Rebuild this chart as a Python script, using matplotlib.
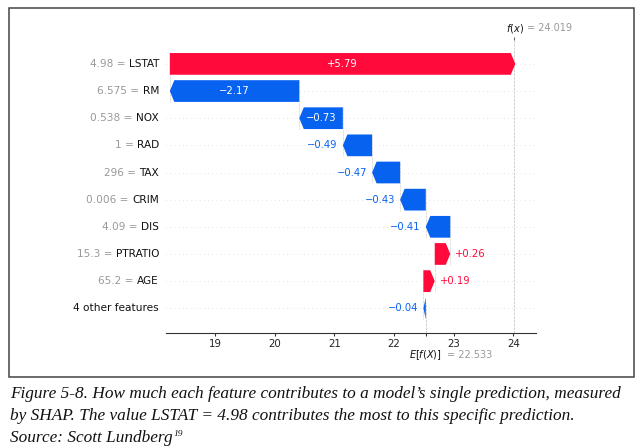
import matplotlib
matplotlib.use('Agg')
import matplotlib.pyplot as plt
from matplotlib.patches import Rectangle
from matplotlib.ticker import FixedLocator
import numpy as np

# data (top row first)
features = ['LSTAT', 'RM', 'NOX', 'RAD', 'TAX', 'CRIM', 'DIS', 'PTRATIO', 'AGE', '4 other features']
feat_values = ['4.98', '6.575', '0.538', '1', '296', '0.006', '4.09', '15.3', '65.2', '']
shap_values = [5.79, -2.17, -0.73, -0.49, -0.47, -0.43, -0.41, 0.26, 0.19, -0.04]
base_value = 22.533
fx_value = 24.019
x_ticks = [19, 20, 21, 22, 23, 24]

caption = ['Figure 5-8. How much each feature contributes to a model\u2019s single prediction, measured',
           'by SHAP. The value LSTAT = 4.98 contributes the most to this specific prediction.',
           'Source: Scott Lundberg']
footnote = '19'

RED = '#ff0a3a'
BLUE = '#0862f0'
GREY = '#999999'

fig = plt.figure(figsize=(6.41, 4.48), dpi=100)
W, H = 641, 448

# book figure frame
fig.patches.append(Rectangle((9.3 / W, 1 - 376.7 / H), (634 - 9.3) / W, (376.7 - 8.3) / H,
                             transform=fig.transFigure, fill=False, ec='#444444', lw=1.1))

ax = fig.add_axes([166 / W, 1 - 332.7 / H, (535.7 - 166) / W, (332.7 - 40) / H])
xmin, xmax = 18.179, 24.375
ax.set_xlim(xmin, xmax)
ax.set_ylim(-0.9, 9.88)

n = len(features)
rows = np.arange(n)[::-1]

px_unit = (535.7 - 166) / (xmax - xmin)
hl = 4.5 / px_unit

# chain of bars, walking up from the base value
starts = np.zeros(n)
loc = base_value
for i in range(n - 1, -1, -1):
    starts[i] = loc
    loc += shap_values[i]

for y in rows:
    ax.axhline(y, color='#cccccc', lw=0.5, dashes=(1, 5), zorder=-1)

ax.axvline(fx_value, 0, 1, color='#bbbbbb', ls='--', lw=0.5, zorder=-1)
ax.axvline(base_value, 0, 1 / n, color='#bbbbbb', ls='--', lw=0.5, zorder=-1)

renderer = fig.canvas.get_renderer()
for i in range(n):
    v = shap_values[i]
    y = rows[i]
    s = starts[i]
    c = RED if v > 0 else BLUE
    sgn = 1 if v > 0 else -1
    ax.arrow(s, y, sgn * max(abs(v) - hl, 1e-6), 0, head_length=min(abs(v), hl),
             width=0.8, head_width=0.8, color=c, lw=0, zorder=2)
    if i < n - 1:
        ax.plot([s, s], [y + 0.4, rows[i + 1] - 0.4], color='#bbbbbb', lw=0.5,
                dashes=(1, 1), zorder=-1)

    lab = ('+' if v > 0 else '\u2212') + '%.2f' % abs(v)
    t = ax.text(s + v / 2, y, lab, ha='center', va='center', color='white', fontsize=7.2, zorder=3)
    bb = t.get_window_extent(renderer)
    if bb.width + 6 > abs(v) * px_unit:
        t.remove()
        tip = s + v
        off = 5 / px_unit
        if v > 0:
            ax.text(tip + off, y, lab, ha='left', va='center', color=c, fontsize=7.2)
        else:
            ax.text(tip - off, y, lab, ha='right', va='center', color=c, fontsize=7.2)

    # y labels: black feature name, grey "value =" in front of it
    nt = ax.annotate(features[i], xy=(0, y), xycoords=('axes fraction', 'data'),
                     xytext=(-7, 0), textcoords='offset pixels', ha='right', va='center',
                     color='#111111', fontsize=7.6)
    if feat_values[i]:
        nw = nt.get_window_extent(renderer).width
        ax.annotate(feat_values[i] + ' =', xy=(0, y), xycoords=('axes fraction', 'data'),
                    xytext=(-7 - nw - 3.4, 0), textcoords='offset pixels', ha='right', va='center',
                    color=GREY, fontsize=7.6)

for side in ['top', 'left', 'right']:
    ax.spines[side].set_visible(False)
ax.spines['bottom'].set_color('#333333')
ax.spines['bottom'].set_linewidth(0.8)
ax.set_yticks([])
ax.set_xticks(x_ticks)
ax.xaxis.set_minor_locator(FixedLocator([base_value]))
ax.tick_params(axis='x', which='both', length=2.5, width=0.8, color='#333333',
               labelsize=7.4, pad=2, labelcolor='#222222')

# f(x) tick on top
ax3 = ax.twiny()
ax3.set_xlim(xmin, xmax)
ax3.set_xticks([fx_value])
ax3.set_xticklabels([''])
ax3.tick_params(axis='x', length=2.5, width=0.8, color='#666666')
for side in ax3.spines:
    ax3.spines[side].set_visible(False)

ax.annotate('$f(x)$', xy=(fx_value, 1), xycoords=('data', 'axes fraction'),
            xytext=(9, 11.7), textcoords='offset pixels', ha='right', va='center',
            color='#111111', fontsize=7)
ax.annotate('= %.3f' % fx_value, xy=(fx_value, 1), xycoords=('data', 'axes fraction'),
            xytext=(13, 11.7), textcoords='offset pixels', ha='left', va='center',
            color=GREY, fontsize=7)
ax.annotate('$E[f(X)]$', xy=(base_value, 0), xycoords=('data', 'axes fraction'),
            xytext=(16, -22.3), textcoords='offset pixels', ha='right', va='center',
            color='#111111', fontsize=7)
ax.annotate('= %.3f' % base_value, xy=(base_value, 0), xycoords=('data', 'axes fraction'),
            xytext=(21, -22.3), textcoords='offset pixels', ha='left', va='center',
            color=GREY, fontsize=7)

# caption, sized so the first line spans the frame width
fs = 12
baselines = [397.7, 420, 442]
t0 = fig.text(10 / W, 1 - baselines[0] / H, caption[0], fontsize=fs, family='Liberation Serif',
              style='italic', va='baseline', color='#111111')
w0 = t0.get_window_extent(renderer).width
fs = fs * 611 / w0
t0.set_fontsize(fs)
last = None
for k in range(1, 3):
    last = fig.text(10 / W, 1 - baselines[k] / H, caption[k], fontsize=fs, family='Liberation Serif',
                    style='italic', va='baseline', color='#111111')
bb = last.get_window_extent(renderer)
fig.text((bb.x1 + 1) / W, 1 - (baselines[2] - 6) / H, footnote, fontsize=fs * 0.55,
         family='Liberation Serif', style='italic', va='baseline', color='#111111')

fig.savefig('out.png', dpi=100)
